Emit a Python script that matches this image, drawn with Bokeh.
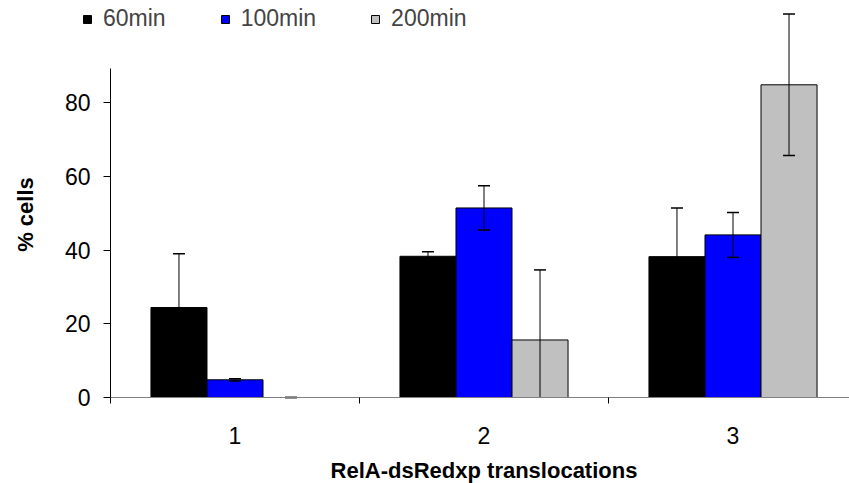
import math
from bokeh.plotting import figure
from bokeh.models import Range1d, FixedTicker, Legend, LegendItem, Label
from bokeh.embed import file_html
from bokeh.resources import INLINE

# ---- data ----
categories = ["1", "2", "3"]
series = ["60min", "100min", "200min"]
colors = ["#000000", "#0000FF", "#C0C0C0"]

v60 = [24.4, 38.3, 38.2]
e60 = [14.6, 1.2, 13.2]
v100 = [4.8, 51.4, 44.1]
e100 = [0.3, 6.0, 6.1]
v200 = [0.0, 15.6, 84.8]
e200 = [0.0, 19.0, 19.2]

y_ticks = [0, 20, 40, 60, 80]
y_axis_max = 89.3
x_title = "RelA-dsRedxp translocations"
y_title = "% cells"

values = [v60, v100, v200]
errors = [e60, e100, e200]

# ---- layout (pixel geometry of the picture) ----
FONT = "Liberation Sans"
bar_w = 0.225
offsets = [-bar_w, 0.0, bar_w]
centers = [i + 1 for i in range(len(categories))]

W, H = 849, 483
axis_x_px = 110          # y axis position from left
axis_y_px = 397          # x axis position from top
px_per_cat = 249.0
px_per_unit = 3.6875

x_start = 0.5 - axis_x_px / px_per_cat
y_start = -(H - axis_y_px) / px_per_unit
y_end = axis_y_px / px_per_unit


def px_to_y(py):
    return (axis_y_px - py) / px_per_unit


def px_to_x(px):
    return x_start + px / px_per_cat


p = figure(
    width=W, height=H,
    output_backend="svg", toolbar_location=None,
    x_range=Range1d(x_start, x_start + W / px_per_cat),
    y_range=Range1d(y_start, y_end),
    min_border_left=0, min_border_right=0,
    min_border_top=0, min_border_bottom=0,
)
p.outline_line_color = None
p.xgrid.visible = False
p.ygrid.visible = False
p.background_fill_color = "white"
p.border_fill_color = "white"

items = []
for s, name in enumerate(series):
    xs = [c + offsets[s] for c in centers]
    r = p.vbar(x=xs, top=values[s], width=bar_w, bottom=0,
               fill_color=colors[s], line_color="black", line_width=1)
    items.append(LegendItem(label=name, renderers=[r]))

for s in range(len(series)):
    xs = [c + offsets[s] for c in centers]
    up = [v + e for v, e in zip(values[s], errors[s])]
    lo = [max(v - e, 0) for v, e in zip(values[s], errors[s])]
    p.segment(x0=xs, y0=lo, x1=xs, y1=up, line_color="black", line_width=1)
    p.dash(x=xs, y=up, size=12, line_color="black", line_width=1.5)
    lo_cap_x = [x for x, v, e in zip(xs, values[s], errors[s]) if v - e >= 0]
    lo_cap_y = [v - e for v, e in zip(values[s], errors[s]) if v - e >= 0]
    p.dash(x=lo_cap_x, y=lo_cap_y, size=12, line_color="black", line_width=1.5)

# x axis (at y = 0)
xa = p.xaxis[0]
xa.fixed_location = 0
xa.ticker = FixedTicker(ticks=centers, minor_ticks=[c - 0.5 for c in centers] + [centers[-1] + 0.5])
xa.major_label_overrides = {c: categories[i] for i, c in enumerate(centers)}
xa.bounds = (0.5, centers[-1] + 0.5)
xa.major_tick_out = 0
xa.major_tick_in = 0
xa.minor_tick_out = 6
xa.minor_tick_in = 0
xa.minor_tick_line_color = "black"
xa.axis_line_color = "#808080"
xa.major_label_text_font = FONT
xa.major_label_text_font_size = "23px"
xa.major_label_text_color = "black"
xa.major_label_standoff = 23

# y axis (at the category-axis origin)
ya = p.yaxis[0]
ya.fixed_location = 0.5
ya.ticker = FixedTicker(ticks=y_ticks)
ya.bounds = (0, y_axis_max)
ya.major_tick_out = 7
ya.major_tick_in = 0
ya.minor_tick_out = 0
ya.minor_tick_in = 0
ya.axis_line_color = "black"
ya.major_tick_line_color = "black"
ya.major_label_text_font = FONT
ya.major_label_text_font_size = "23px"
ya.major_label_text_color = "black"
ya.major_label_standoff = 13

# axis titles
p.add_layout(Label(
    x=sum(centers) / len(centers), y=px_to_y(470), text=x_title,
    text_align="center", text_baseline="middle",
    text_font=FONT, text_font_size="22px", text_font_style="bold",
    text_color="black",
))
p.add_layout(Label(
    x=px_to_x(25), y=px_to_y(214), text=y_title, angle=math.pi / 2,
    text_align="center", text_baseline="middle",
    text_font=FONT, text_font_size="22px", text_font_style="bold",
    text_color="black",
))

legend = Legend(
    items=items, orientation="horizontal",
    location=(82, H - 32),
    glyph_width=10, glyph_height=10,
    label_text_font=FONT, label_text_font_size="23px",
    label_height=24, label_standoff=11, spacing=54,
    padding=0, margin=0,
    border_line_alpha=0, background_fill_alpha=0,
)
p.add_layout(legend, "center")

open("out.html", "w").write(file_html(p, INLINE))
